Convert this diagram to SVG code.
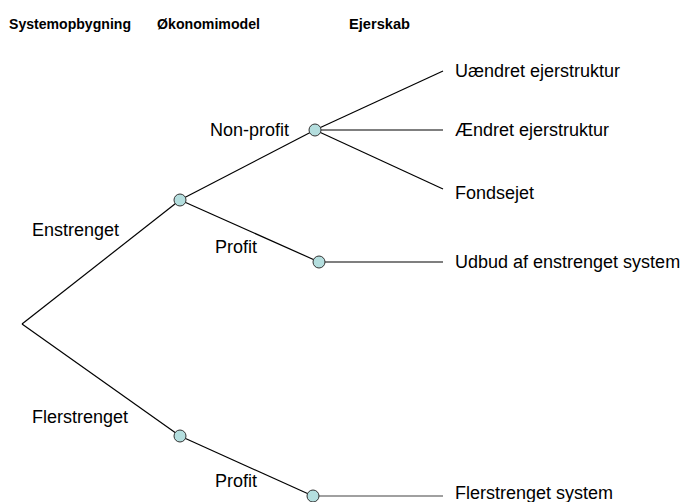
<svg xmlns="http://www.w3.org/2000/svg" width="686" height="502" viewBox="0 0 686 502">
<style>
.h{font-family:"Liberation Sans",Arial,sans-serif;font-weight:bold;font-size:15px;fill:#000}
.t{font-family:"Liberation Sans",Arial,sans-serif;font-size:18px;fill:#000}
.l{stroke:#000;stroke-width:1.2;fill:none}
.g{stroke:#808080;stroke-width:1.6;fill:none}
.n{fill:#b4dede;stroke:#333;stroke-width:1}
</style>
<rect width="686" height="502" fill="#fff"/>
<g id="headers">
<text class="h" x="9" y="29" textLength="122" lengthAdjust="spacingAndGlyphs">Systemopbygning</text>
<text class="h" x="157" y="29" textLength="103" lengthAdjust="spacingAndGlyphs">Økonomimodel</text>
<text class="h" x="349" y="29" textLength="61" lengthAdjust="spacingAndGlyphs">Ejerskab</text>
</g>
<g id="connectors">
<line class="l" x1="22" y1="324" x2="180" y2="200"/>
<line class="l" x1="22" y1="324" x2="180" y2="436"/>
<line class="l" x1="180" y1="200" x2="315" y2="130"/>
<line class="l" x1="180" y1="200" x2="319" y2="262"/>
<line class="l" x1="315" y1="130" x2="443" y2="71"/>
<line class="l" x1="315" y1="130" x2="443" y2="130"/>
<line class="l" x1="315" y1="130" x2="443" y2="189"/>
<line class="l" x1="319" y1="262" x2="443" y2="262"/>
<line class="l" x1="180" y1="436" x2="313" y2="496"/>
<line class="g" x1="313" y1="496" x2="443" y2="496"/>
</g>
<g id="enstrenget"><circle class="n" cx="180" cy="200" r="6"/><text class="t" x="32" y="236">Enstrenget</text></g>
<g id="flerstrenget"><circle class="n" cx="180" cy="436" r="6"/><text class="t" x="32" y="423">Flerstrenget</text></g>
<g id="nonprofit"><circle class="n" cx="315" cy="130" r="6"/><text class="t" x="210" y="136">Non-profit</text></g>
<g id="profit1"><circle class="n" cx="319" cy="262" r="6"/><text class="t" x="215" y="253">Profit</text></g>
<g id="profit2"><circle class="n" cx="313" cy="496" r="6"/><text class="t" x="215" y="487">Profit</text></g>
<g id="uaendret"><text class="t" x="455" y="77">Uændret ejerstruktur</text></g>
<g id="aendret"><text class="t" x="455" y="136">Ændret ejerstruktur</text></g>
<g id="fondsejet"><text class="t" x="455" y="199">Fondsejet</text></g>
<g id="udbud"><text class="t" x="455" y="268">Udbud af enstrenget system</text></g>
<g id="flersystem"><text class="t" x="455" y="499">Flerstrenget system</text></g>
</svg>
